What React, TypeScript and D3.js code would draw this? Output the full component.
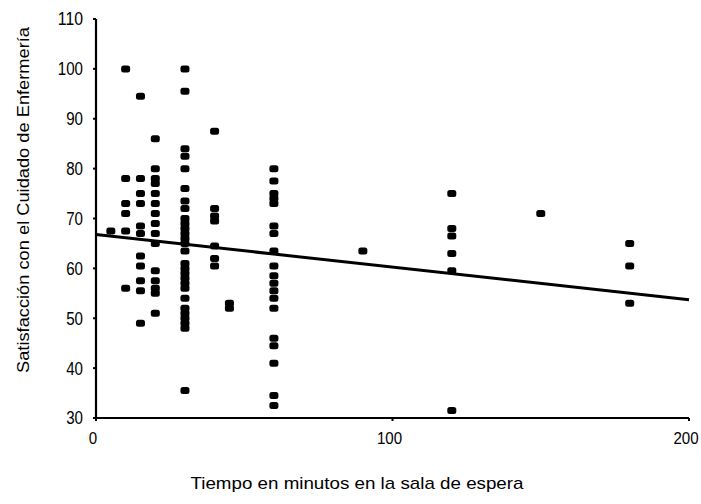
import React from "react";
import * as d3 from "d3";

const width = 701;
const height = 504;

// wait time groups (minutes) and satisfaction scores observed in each
const waitMinutes = [5, 10, 15, 20, 30, 40, 45, 60, 90, 120, 150, 180];
const scoresByWait = [
  [67.5],
  [100, 78, 73, 71, 67.5, 56],
  [94.5, 78, 75, 73, 68.5, 67, 62.5, 60.5, 57.5, 55.5, 49],
  [86, 80, 78, 77, 75, 73, 71, 69, 67, 65, 59.5, 57.5, 56, 55, 51],
  [100, 95.5, 84, 82.5, 80, 76, 73.5, 72, 70, 69, 68, 67, 66, 65, 63.5, 61, 60, 59, 58, 57, 56, 54, 52, 51, 50, 49, 48, 35.5],
  [87.5, 72, 70.5, 69.5, 64.5, 62, 60.5],
  [53, 52],
  [80, 77.5, 75, 74, 73, 68.5, 67, 63.5, 60.5, 58.5, 57, 55.5, 54, 52, 46, 44.5, 41, 34.5, 32.5],
  [63.5],
  [75, 68, 66.5, 63, 59.5, 31.5],
  [71],
  [65, 60.5, 53]
];

// fitted trend line
const trendIntercept = 66.8;
const trendSlope = -0.0655;

const xDomain = [0, 200];
const yDomain = [30, 110];

const xTitle = "Tiempo en minutos en la sala de espera";
const yTitle = "Satisfacción con el Cuidado de Enfermería";

const font = "'Liberation Sans', Arial, sans-serif";
// digits in the original are a condensed face, so squeeze them
const digitWidth = 8.4;

export default function App() {
  const x = d3.scaleLinear().domain(xDomain).range([96, 689]);
  const y = d3.scaleLinear().domain(yDomain).range([418, 19]);

  const points = waitMinutes.flatMap((m, i) =>
    scoresByWait[i].map(s => ({ m, s }))
  );

  const trend = d3
    .line<number>()
    .x(d => x(d))
    .y(d => y(trendIntercept + trendSlope * d));

  return (
    <svg
      width={width}
      height={height}
      style={{ position: "fixed", left: 0, top: 0, background: "#fff" }}
    >
      {/* points */}
      {points.map((d, i) => (
        <rect
          key={i}
          x={x(d.m) - 4.5}
          y={y(d.s) - 3.5}
          width={9}
          height={7}
          rx={2.5}
          fill="#000"
        />
      ))}

      {/* trend */}
      <path d={trend(xDomain) || ""} fill="none" stroke="#000" strokeWidth={3} />

      {/* y axis */}
      <line x1={x(0)} x2={x(0)} y1={y(110)} y2={y(30)} stroke="#000" strokeWidth={2.2} />
      {y.ticks(8).map(t => (
        <g key={t}>
          <line x1={x(0) - 3} x2={x(0)} y1={y(t)} y2={y(t)} stroke="#000" strokeWidth={2} />
          <text
            x={83}
            y={y(t)}
            dy="0.36em"
            textAnchor="end"
            fontFamily={font}
            fontSize={18}
            textLength={String(t).length * digitWidth}
            lengthAdjust="spacingAndGlyphs"
            fill="#000"
          >
            {t}
          </text>
        </g>
      ))}

      {/* x axis */}
      <line x1={x(0)} x2={x(200)} y1={y(30)} y2={y(30)} stroke="#000" strokeWidth={2} />
      {x.ticks(2).map(t => (
        <g key={t}>
          <line x1={x(t)} x2={x(t)} y1={y(30)} y2={y(30) + 3} stroke="#000" strokeWidth={2} />
          <text
            x={x(t) - 3}
            y={438}
            dy="0.36em"
            textAnchor="middle"
            fontFamily={font}
            fontSize={16}
            textLength={String(t).length * digitWidth}
            lengthAdjust="spacingAndGlyphs"
            fill="#000"
          >
            {t}
          </text>
        </g>
      ))}

      {/* titles */}
      <text
        x={357}
        y={489}
        textAnchor="middle"
        fontFamily={font}
        fontSize={17}
        textLength={333}
        lengthAdjust="spacingAndGlyphs"
        fill="#000"
      >
        {xTitle}
      </text>
      <text
        transform="translate(29,200) rotate(-90)"
        textAnchor="middle"
        fontFamily={font}
        fontSize={17}
        textLength={346}
        lengthAdjust="spacingAndGlyphs"
        fill="#000"
      >
        {yTitle}
      </text>
    </svg>
  );
}
